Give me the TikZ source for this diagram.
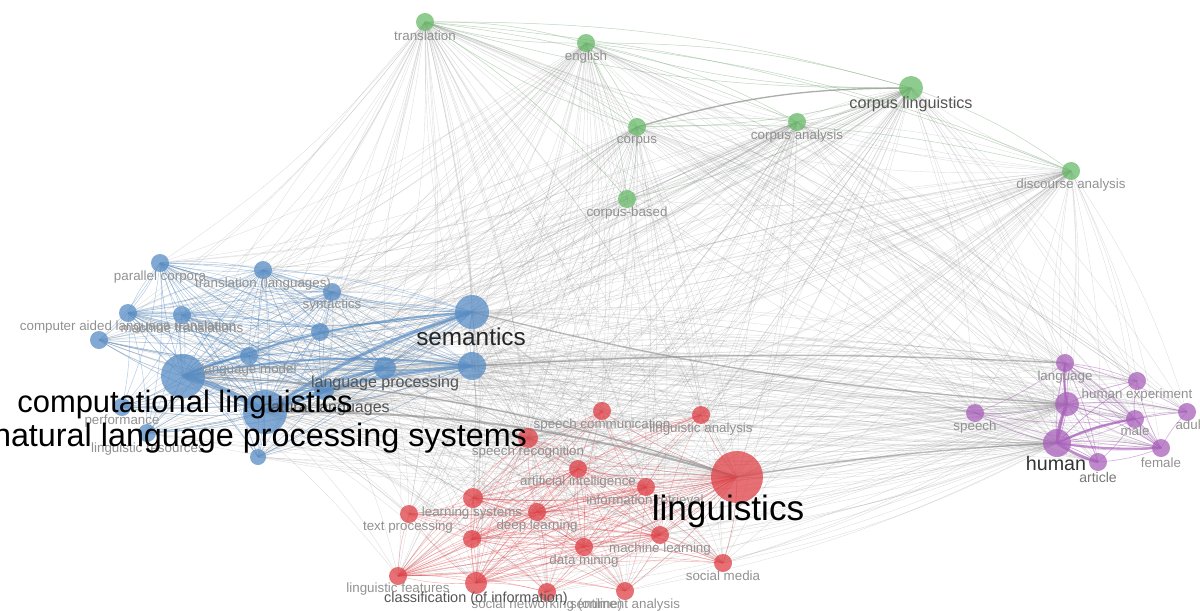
\documentclass[tikz,border=0pt]{standalone}
\usepackage{fontspec}
\setmainfont{Liberation Sans}
\usetikzlibrary{backgrounds}
\definecolor{kwblue}{RGB}{88,140,196}
\definecolor{kwred}{RGB}{222,64,70}
\definecolor{kwgreen}{RGB}{104,186,104}
\definecolor{kwpurple}{RGB}{168,96,186}
\definecolor{lblgray}{RGB}{145,145,145}
\definecolor{lbldark}{RGB}{85,85,85}
\definecolor{linkgray}{RGB}{140,140,140}
\tikzset{
  kw/.style={circle, inner sep=0pt, fill opacity=0.75},
  bkw/.style={kw, fill=kwblue},
  rkw/.style={kw, fill=kwred},
  gkw/.style={kw, fill=kwgreen},
  pkw/.style={kw, fill=kwpurple},
  lbl/.style={inner sep=0pt, text=lblgray, font=\fontsize{9.5}{10}\selectfont},
  midlbl/.style={inner sep=0pt, text=lbldark, font=\fontsize{11.5}{12}\selectfont},
  biglbl/.style={inner sep=0pt, text=black, font=\fontsize{22}{24}\selectfont},
  link/.style={draw=linkgray, line width=0.3pt, opacity=0.27},
  blink/.style={draw=kwblue, line width=0.4pt, opacity=0.4},
  rlink/.style={draw=kwred, line width=0.4pt, opacity=0.35},
  glink/.style={draw=kwgreen, line width=0.4pt, opacity=0.25},
  plink/.style={draw=kwpurple, line width=0.5pt, opacity=0.45}
}
\def\allkw{trans,english,corplin,corpus,corpana,discana,corpbased,
  parcorp,translang,syntac,cald,machtr,b1,b2,langmodel,complin,langproc,semantics,nlp,natlang,nlps,perf,lingres,b3,
  speechcomm,linganal,speechrec,linguistics,ai,inforet,learnsys,textproc,deeplearn,r1,machlearn,datamining,socmedia,lingfeat,classif,socnet,sentiment,
  lang,humexp,speech,p1,male,adult,human,female,article}
\def\bluekw{parcorp,translang,syntac,cald,machtr,b1,b2,langmodel,complin,langproc,semantics,nlp,natlang,nlps,perf,lingres,b3}
\def\redkw{speechcomm,linganal,speechrec,linguistics,ai,inforet,learnsys,textproc,deeplearn,r1,machlearn,datamining,socmedia,lingfeat,classif,socnet,sentiment}
\def\greenkw{trans,english,corplin,corpus,corpana,discana,corpbased}
\def\purplekw{lang,humexp,speech,p1,male,adult,human,female,article}

\begin{document}
\begin{tikzpicture}[x=0.025cm, y=-0.025cm]
\useasboundingbox (0,0) rectangle (1200,610);

% green cluster
\node[gkw, minimum size=4.5mm] (trans) at (425,22) {};
\node[gkw, minimum size=4.5mm] (english) at (586,43) {};
\node[gkw, minimum size=6mm] (corplin) at (911,88) {};
\node[gkw, minimum size=4.5mm] (corpus) at (637,127) {};
\node[gkw, minimum size=4.5mm] (corpana) at (797,122) {};
\node[gkw, minimum size=4.5mm] (discana) at (1071,171) {};
\node[gkw, minimum size=4.5mm] (corpbased) at (627,199) {};

% blue cluster
\node[bkw, minimum size=4.5mm] (parcorp) at (160,263) {};
\node[bkw, minimum size=4.5mm] (translang) at (263,270) {};
\node[bkw, minimum size=4.5mm] (syntac) at (332,292) {};
\node[bkw, minimum size=4.5mm] (cald) at (128,313) {};
\node[bkw, minimum size=4.5mm] (machtr) at (182,315) {};
\node[bkw, minimum size=4.5mm] (b1) at (99,340) {};
\node[bkw, minimum size=4.5mm] (b2) at (320,332) {};
\node[bkw, minimum size=4.5mm] (langmodel) at (249,356) {};
\node[bkw, minimum size=11mm] (complin) at (183,376) {};
\node[bkw, minimum size=5.5mm] (langproc) at (385,368) {};
\node[bkw, minimum size=8.5mm] (semantics) at (472,312) {};
\node[bkw, minimum size=7mm] (nlp) at (472,366) {};
\node[bkw, minimum size=5mm] (natlang) at (324,390) {};
\node[bkw, minimum size=11mm] (nlps) at (265,412) {};
\node[bkw, minimum size=4.5mm] (perf) at (122,407) {};
\node[bkw, minimum size=4.5mm] (lingres) at (147,433) {};
\node[bkw, minimum size=4mm] (b3) at (258,457) {};

% red cluster
\node[rkw, minimum size=4.5mm] (speechcomm) at (602,411) {};
\node[rkw, minimum size=4.5mm] (linganal) at (701,415) {};
\node[rkw, minimum size=5mm] (speechrec) at (528,438) {};
\node[rkw, minimum size=13mm] (linguistics) at (737,477) {};
\node[rkw, minimum size=4.5mm] (ai) at (578,469) {};
\node[rkw, minimum size=4.5mm] (inforet) at (646,487) {};
\node[rkw, minimum size=5mm] (learnsys) at (473,498) {};
\node[rkw, minimum size=4.5mm] (textproc) at (409,514) {};
\node[rkw, minimum size=4.5mm] (deeplearn) at (537,512) {};
\node[rkw, minimum size=4.5mm] (r1) at (472,539) {};
\node[rkw, minimum size=4.5mm] (machlearn) at (660,535) {};
\node[rkw, minimum size=4.5mm] (datamining) at (584,547) {};
\node[rkw, minimum size=4.5mm] (socmedia) at (723,563) {};
\node[rkw, minimum size=4.5mm] (lingfeat) at (398,576) {};
\node[rkw, minimum size=5.5mm] (classif) at (476,583) {};
\node[rkw, minimum size=4.5mm] (socnet) at (547,592) {};
\node[rkw, minimum size=4.5mm] (sentiment) at (625,591) {};

% purple cluster
\node[pkw, minimum size=4.5mm] (lang) at (1065,363) {};
\node[pkw, minimum size=4.5mm] (humexp) at (1137,381) {};
\node[pkw, minimum size=4.5mm] (speech) at (975,413) {};
\node[pkw, minimum size=6mm] (p1) at (1067,404) {};
\node[pkw, minimum size=4.5mm] (male) at (1135,419) {};
\node[pkw, minimum size=4.5mm] (adult) at (1187,412) {};
\node[pkw, minimum size=7mm] (human) at (1057,443) {};
\node[pkw, minimum size=4.5mm] (female) at (1161,448) {};
\node[pkw, minimum size=4.5mm] (article) at (1098,462) {};

% links
\begin{pgfonlayer}{background}
\foreach \a in {linguistics,complin,nlps,semantics,nlp,langproc,natlang,human,p1,corplin,corpus,trans,english,corpana,discana,speechrec}
  \foreach \b in \allkw {\ifx\a\b\else\draw[link] (\a.center) to[bend left=8] (\b.center);\fi}
\foreach \a in {complin,nlps,semantics,nlp,langproc,natlang,langmodel,cald,machtr,parcorp,translang,syntac}
  \foreach \b in \bluekw {\ifx\a\b\else\draw[blink] (\a.center) to[bend left=8] (\b.center);\fi}
\foreach \a in {linguistics,classif,learnsys,deeplearn,ai,inforet,lingfeat,r1,machlearn,datamining}
  \foreach \b in \redkw {\ifx\a\b\else\draw[rlink] (\a.center) to[bend left=8] (\b.center);\fi}
\foreach \a in {corplin,corpus,trans,english}
  \foreach \b in \greenkw {\ifx\a\b\else\draw[glink] (\a.center) to[bend left=8] (\b.center);\fi}
\foreach \a in {human,p1,lang,male,female}
  \foreach \b in \purplekw {\ifx\a\b\else\draw[plink] (\a.center) to[bend left=8] (\b.center);\fi}
% strong links
\draw[blink, opacity=0.6, line width=4pt] (complin.center) to[bend left=8] (nlps.center);
\draw[blink, opacity=0.6, line width=2.5pt] (nlps.center) to[bend left=8] (semantics.center);
\draw[blink, opacity=0.6, line width=2.5pt] (nlps.center) to[bend left=8] (nlp.center);
\draw[blink, opacity=0.6, line width=1.5pt] (complin.center) to[bend left=8] (nlp.center);
\draw[blink, opacity=0.6, line width=1.5pt] (complin.center) to[bend left=8] (semantics.center);
\draw[blink, opacity=0.6, line width=2pt] (nlps.center) to[bend left=8] (langproc.center);
\draw[blink, opacity=0.6, line width=1.5pt] (complin.center) to[bend left=8] (langmodel.center);
\draw[link, opacity=0.6, line width=1.5pt] (nlps.center) to[bend left=8] (linguistics.center);
\draw[link, opacity=0.6, line width=1pt] (complin.center) to[bend left=8] (linguistics.center);
\draw[link, opacity=0.6, line width=1pt] (nlp.center) to[bend left=3] (lang.center);
\draw[link, opacity=0.6, line width=1pt] (semantics.center) to[bend right=5] (p1.center);
\draw[link, opacity=0.6, line width=1pt] (linguistics.center) to[bend left=3] (human.center);
\draw[link, opacity=0.6, line width=1pt] (corpus.center) to[bend left=8] (corplin.center);
\draw[plink, opacity=0.7, line width=2.5pt] (human.center) to[bend left=8] (p1.center);
\draw[plink, opacity=0.7, line width=2pt] (human.center) to[bend right=8] (article.center);
\draw[plink, opacity=0.7, line width=1.5pt] (human.center) to[bend left=8] (male.center);
\draw[plink, opacity=0.7, line width=1.5pt] (human.center) to[bend right=5] (female.center);
\draw[plink, opacity=0.7, line width=1.5pt] (p1.center) to[bend left=8] (lang.center);
\end{pgfonlayer}

% labels
\node[lbl] (trans-l) at (425,36) {translation};
\node[lbl] (english-l) at (586,57) {english};
\node[midlbl] (corplin-l) at (911,104) {corpus linguistics};
\node[lbl] (corpus-l) at (637,141) {corpus};
\node[lbl] (corpana-l) at (797,136) {corpus analysis};
\node[lbl] (discana-l) at (1071,185) {discourse analysis};
\node[lbl] (corpbased-l) at (627,213) {corpus-based};
\node[lbl] (parcorp-l) at (160,277) {parallel corpora};
\node[lbl] (translang-l) at (263,284) {translation (languages)};
\node[lbl] (syntac-l) at (332,305) {syntactics};
\node[lbl] (cald-l) at (128,327) {computer aided language translation};
\node[lbl] (machtr-l) at (182,328) {machine translations};
\node[lbl] (langmodel-l) at (249,370) {language model};
\node[lbl] (perf-l) at (122,421) {performance};
\node[lbl] (lingres-l) at (148,449) {linguistic resources};
\node[lbl] (speechcomm-l) at (602,425) {speech communication};
\node[lbl] (linganal-l) at (701,429) {linguistic analysis};
\node[lbl] (speechrec-l) at (528,452) {speech recognition};
\node[lbl] (ai-l) at (578,482) {artificial intelligence};
\node[lbl] (inforet-l) at (645,500) {information retrieval};
\node[lbl] (textproc-l) at (408,527) {text processing};
\node[lbl] (learnsys-l) at (472,513) {learning systems};
\node[lbl] (deeplearn-l) at (537,526) {deep learning};
\node[lbl] (machlearn-l) at (660,549) {machine learning};
\node[lbl] (datamining-l) at (584,561) {data mining};
\node[lbl] (socmedia-l) at (723,576) {social media};
\node[lbl] (lingfeat-l) at (398,589) {linguistic features};
\node[lbl] (socnet-l) at (547,605) {social networking (online)};
\node[lbl] (sentiment-l) at (625,605) {sentiment analysis};
\node[lbl] (lang-l) at (1065,377) {language};
\node[lbl] (humexp-l) at (1137,395) {human experiment};
\node[lbl] (speech-l) at (975,427) {speech};
\node[lbl] (male-l) at (1135,431) {male};
\node[lbl] (adult-l) at (1190,425) {adult};
\node[lbl] (female-l) at (1161,463) {female};
\node[lbl, font=\fontsize{10}{11}\selectfont, text=lbldark!80] (article-l) at (1098,477) {article};
\node[midlbl, font=\fontsize{10.3}{11}\selectfont] (classif-l) at (476,599) {classification (of information)};
\node[midlbl, font=\fontsize{11.4}{12}\selectfont] (natlang-l) at (326,408) {natural languages};
\node[midlbl, font=\fontsize{11.4}{12}\selectfont] (langproc-l) at (385,383) {language processing};
\node[midlbl, font=\fontsize{14}{15}\selectfont, text=black!80] (human-l) at (1056,463) {human};
\node[biglbl, font=\fontsize{17.3}{19}\selectfont, text=black!85] (semantics-l) at (471,337) {semantics};
\node[biglbl] (complin-l) at (185,404) {computational linguistics};
\node[biglbl, font=\fontsize{23}{25}\selectfont] (nlps-l) at (260,438) {natural language processing systems};
\node[biglbl, font=\fontsize{25}{27}\selectfont] (linguistics-l) at (728,511) {linguistics};
\end{tikzpicture}
\end{document}
